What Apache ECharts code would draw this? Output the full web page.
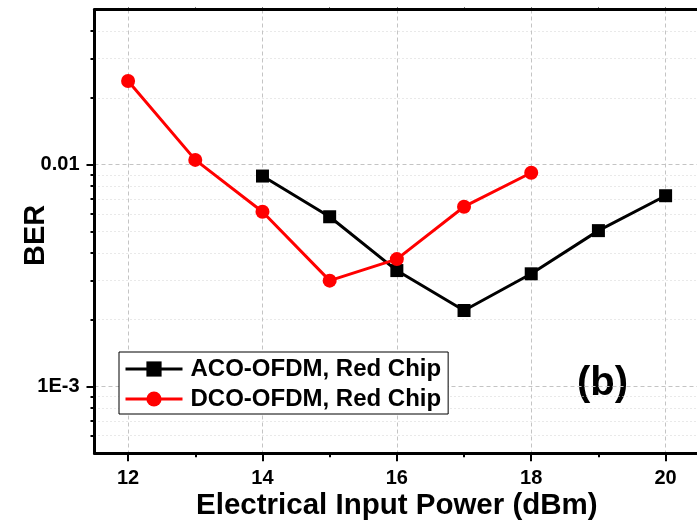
<!DOCTYPE html>
<html>
<head>
<meta charset="utf-8">
<script src="https://cdn.jsdelivr.net/npm/echarts@6/dist/echarts.min.js"></script>
<style>
  html, body { margin: 0; padding: 0; background: #ffffff; }
  #chart { width: 697px; height: 523px; }
</style>
</head>
<body>
<div id="chart"></div>
<script>
// Electrical input power (dBm) for each measured point
const acoPower = [14, 15, 16, 17, 18, 19, 20];
const acoBer = [0.00888, 0.00582, 0.00333, 0.00220, 0.00322, 0.00504, 0.00724];

const dcoPower = [12, 13, 14, 15, 16, 17, 18];
const dcoBer = [0.0238, 0.0105, 0.00613, 0.00300, 0.00375, 0.00646, 0.00919];

const seriesNames = ['ACO-OFDM, Red Chip', 'DCO-OFDM, Red Chip'];

// Axis ticks
const xMajorTicks = [12, 14, 16, 18, 20];
const xMinorTicks = [13, 15, 17, 19];
const xTopTicks = [12, 13, 14, 15, 16, 17, 18, 19, 20];
const yMajorTicks = [0.001, 0.01];
const yMajorLabels = ['1E-3', '0.01'];
const yMinorTicks = [0.0006, 0.0007, 0.0008, 0.0009,
                     0.002, 0.003, 0.004, 0.005, 0.006, 0.007, 0.008, 0.009,
                     0.02, 0.03, 0.04];

const FONT = "'Liberation Sans', Arial, Helvetica, sans-serif";
const X_MIN = 11.5, X_MAX = 20.5;
const Y_MIN = 0.0005, Y_MAX = 0.05;

const pairs = (xs, ys) => xs.map((x, i) => [x, ys[i]]);

const chart = echarts.init(document.getElementById('chart'), null, { renderer: 'canvas' });

const option = {
  backgroundColor: '#ffffff',
  animation: false,
  grid: {
    left: 94.5, right: -2.2, top: 9.5, bottom: 69.7,
    containLabel: false, outerBoundsMode: 'none'
  },
  xAxis: [
    {
      type: 'value', position: 'bottom', min: X_MIN, max: X_MAX,
      name: 'Electrical Input Power (dBm)', nameLocation: 'middle', nameGap: 38,
      nameMoveOverlap: false,
      nameTextStyle: { fontFamily: FONT, fontWeight: 'bold', fontSize: 29.5, color: '#000' },
      axisLine: { lineStyle: { color: '#000', width: 3 } },
      axisTick: { customValues: xMajorTicks, length: 8, lineStyle: { color: '#000', width: 2 } },
      axisLabel: { customValues: xMajorTicks, margin: 15, fontFamily: FONT, fontWeight: 'bold', fontSize: 20, color: '#000' },
      splitLine: { show: true, lineStyle: { color: '#c4c4c4', width: 1, type: [4, 3] } }
    },
    {
      type: 'value', position: 'bottom', min: X_MIN, max: X_MAX,
      axisLine: { show: false },
      axisTick: { customValues: xMinorTicks, length: 4, lineStyle: { color: '#000', width: 2 } },
      axisLabel: { show: false },
      splitLine: { show: false }
    },
    {
      type: 'value', position: 'top', min: X_MIN, max: X_MAX,
      axisLine: { lineStyle: { color: '#000', width: 3 } },
      axisTick: { customValues: xTopTicks, length: 2, lineStyle: { color: '#000', width: 1 } },
      axisLabel: { show: false },
      splitLine: { show: false }
    }
  ],
  yAxis: [
    {
      type: 'log', logBase: 10, position: 'left', min: Y_MIN, max: Y_MAX,
      name: 'BER', nameLocation: 'middle', nameGap: 44, nameMoveOverlap: false,
      nameTextStyle: { fontFamily: FONT, fontWeight: 'bold', fontSize: 29, color: '#000', padding: [0, 8, 0, 0] },
      axisLine: { show: true, lineStyle: { color: '#000', width: 3 } },
      axisTick: { show: true, customValues: yMajorTicks, length: 8, lineStyle: { color: '#000', width: 2 } },
      axisLabel: {
        customValues: yMajorTicks, margin: 15, fontFamily: FONT, fontWeight: 'bold', fontSize: 20, color: '#000',
        formatter: (v) => {
          const i = yMajorTicks.findIndex(t => Math.abs(t - v) / t < 1e-6);
          return i >= 0 ? yMajorLabels[i] : '';
        }
      },
      splitLine: { show: true, lineStyle: { color: '#c4c4c4', width: 1, type: [4, 3] } }
    },
    {
      type: 'log', logBase: 10, position: 'left', min: Y_MIN, max: Y_MAX,
      axisLine: { show: false },
      axisTick: { show: true, customValues: yMinorTicks, length: 4, lineStyle: { color: '#000', width: 2 } },
      axisLabel: { show: false },
      splitLine: { show: true, lineStyle: { color: '#d2d2d2', width: 1, type: [1, 3] } }
    }
  ],
  legend: {
    data: seriesNames,
    orient: 'vertical',
    left: 119, top: 352,
    itemWidth: 57, itemHeight: 19, itemGap: 6,
    padding: [5, 7, 3, 5],
    borderColor: '#000', borderWidth: 1, backgroundColor: '#fff',
    lineStyle: { width: 3 },
    textStyle: { fontFamily: FONT, fontWeight: 'bold', fontSize: 24, color: '#000', padding: [0, 0, 0, 3] }
  },
  graphic: [
    {
      type: 'text', left: 577, top: 364,
      style: { text: '(b)', font: "bold 40px 'Liberation Sans', Arial, sans-serif", fill: '#000' }
    }
  ],
  series: [
    {
      name: seriesNames[0], type: 'line', xAxisIndex: 0, yAxisIndex: 0,
      data: pairs(acoPower, acoBer),
      symbol: 'rect', symbolSize: 13,
      itemStyle: { color: '#000' },
      lineStyle: { color: '#000', width: 3 },
      z: 3
    },
    {
      name: seriesNames[1], type: 'line', xAxisIndex: 0, yAxisIndex: 0,
      data: pairs(dcoPower, dcoBer),
      symbol: 'circle', symbolSize: 14,
      itemStyle: { color: '#ff0000' },
      lineStyle: { color: '#ff0000', width: 3 },
      z: 4
    }
  ]
};

chart.setOption(option);
</script>
</body>
</html>
